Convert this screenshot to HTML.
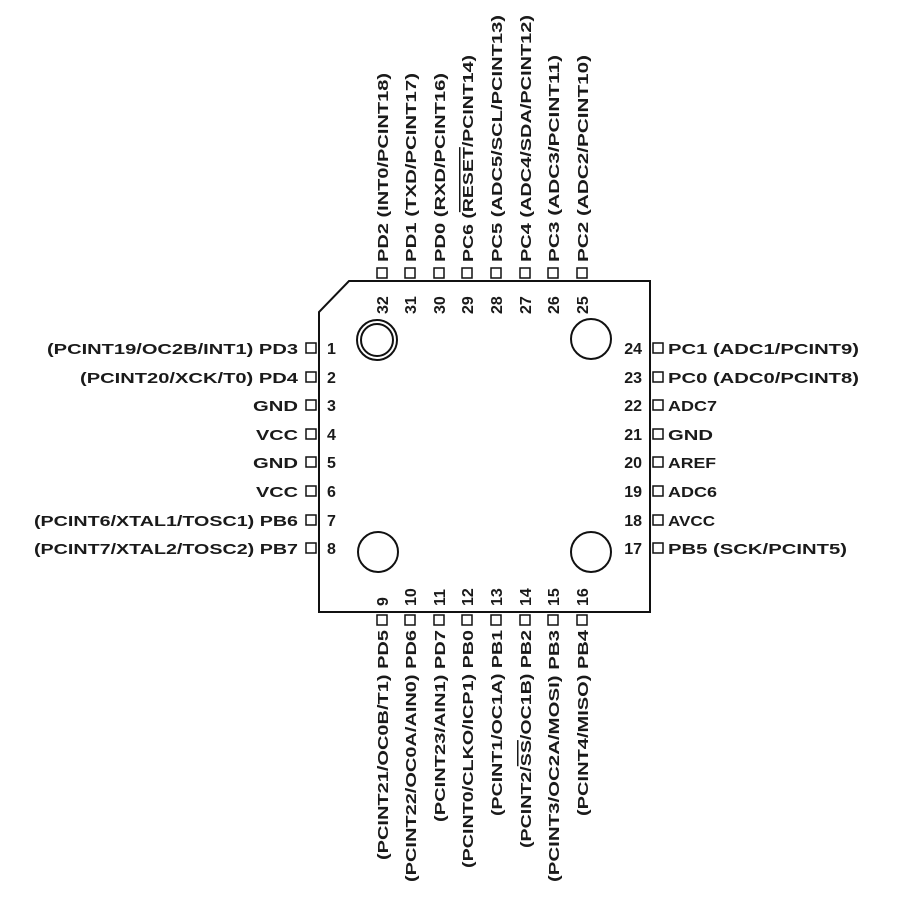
<!DOCTYPE html>
<html><head><meta charset="utf-8"><style>
html,body{margin:0;padding:0;background:#fff;}
svg{display:block;}
text{font-family:"Liberation Sans",Arial,sans-serif;font-size:15px;font-weight:bold;fill:#1a1a1a;}
.n{font-size:16px;}
</style></head><body>
<svg width="900" height="900" viewBox="0 0 900 900" xmlns="http://www.w3.org/2000/svg">
<g fill="none" stroke="#111" stroke-width="2">
<path d="M349 281 L650 281 L650 612 L319 612 L319 312 Z"/>
<circle cx="377" cy="340" r="20"/><circle cx="377" cy="340" r="16"/>
<circle cx="591" cy="339" r="20"/>
<circle cx="378" cy="552" r="20"/>
<circle cx="591" cy="552" r="20"/>
</g>
<g fill="none" stroke="#111" stroke-width="1.5">
<rect x="306" y="343" width="10" height="10"/><rect x="306" y="372" width="10" height="10"/>
<rect x="306" y="400" width="10" height="10"/><rect x="306" y="429" width="10" height="10"/>
<rect x="306" y="457" width="10" height="10"/><rect x="306" y="486" width="10" height="10"/>
<rect x="306" y="515" width="10" height="10"/><rect x="306" y="543" width="10" height="10"/>
<rect x="653" y="343" width="10" height="10"/><rect x="653" y="372" width="10" height="10"/>
<rect x="653" y="400" width="10" height="10"/><rect x="653" y="429" width="10" height="10"/>
<rect x="653" y="457" width="10" height="10"/><rect x="653" y="486" width="10" height="10"/>
<rect x="653" y="515" width="10" height="10"/><rect x="653" y="543" width="10" height="10"/>
<rect x="377" y="268" width="10" height="10"/><rect x="405" y="268" width="10" height="10"/>
<rect x="434" y="268" width="10" height="10"/><rect x="462" y="268" width="10" height="10"/>
<rect x="491" y="268" width="10" height="10"/><rect x="520" y="268" width="10" height="10"/>
<rect x="548" y="268" width="10" height="10"/><rect x="577" y="268" width="10" height="10"/>
<rect x="377" y="615" width="10" height="10"/><rect x="405" y="615" width="10" height="10"/>
<rect x="434" y="615" width="10" height="10"/><rect x="462" y="615" width="10" height="10"/>
<rect x="491" y="615" width="10" height="10"/><rect x="520" y="615" width="10" height="10"/>
<rect x="548" y="615" width="10" height="10"/><rect x="577" y="615" width="10" height="10"/>
</g>
<g text-anchor="end">
<text x="298" y="354" textLength="251" lengthAdjust="spacingAndGlyphs">(PCINT19/OC2B/INT1) PD3</text>
<text x="298" y="383" textLength="218" lengthAdjust="spacingAndGlyphs">(PCINT20/XCK/T0) PD4</text>
<text x="298" y="411" textLength="45" lengthAdjust="spacingAndGlyphs">GND</text>
<text x="298" y="440" textLength="42" lengthAdjust="spacingAndGlyphs">VCC</text>
<text x="298" y="468" textLength="45" lengthAdjust="spacingAndGlyphs">GND</text>
<text x="298" y="497" textLength="42" lengthAdjust="spacingAndGlyphs">VCC</text>
<text x="298" y="526" textLength="264" lengthAdjust="spacingAndGlyphs">(PCINT6/XTAL1/TOSC1) PB6</text>
<text x="298" y="554" textLength="264" lengthAdjust="spacingAndGlyphs">(PCINT7/XTAL2/TOSC2) PB7</text>
</g>
<g class="n">
<text class="n" x="327" y="354">1</text><text class="n" x="327" y="383">2</text><text class="n" x="327" y="411">3</text><text class="n" x="327" y="440">4</text>
<text class="n" x="327" y="468">5</text><text class="n" x="327" y="497">6</text><text class="n" x="327" y="526">7</text><text class="n" x="327" y="554">8</text>
</g>
<g>
<text x="668" y="354" textLength="191" lengthAdjust="spacingAndGlyphs">PC1 (ADC1/PCINT9)</text>
<text x="668" y="383" textLength="191" lengthAdjust="spacingAndGlyphs">PC0 (ADC0/PCINT8)</text>
<text x="668" y="411" textLength="49" lengthAdjust="spacingAndGlyphs">ADC7</text>
<text x="668" y="440" textLength="45" lengthAdjust="spacingAndGlyphs">GND</text>
<text x="668" y="468" textLength="48" lengthAdjust="spacingAndGlyphs">AREF</text>
<text x="668" y="497" textLength="49" lengthAdjust="spacingAndGlyphs">ADC6</text>
<text x="668" y="526" textLength="47" lengthAdjust="spacingAndGlyphs">AVCC</text>
<text x="668" y="554" textLength="179" lengthAdjust="spacingAndGlyphs">PB5 (SCK/PCINT5)</text>
</g>
<g text-anchor="end">
<text class="n" x="642" y="354">24</text><text class="n" x="642" y="383">23</text><text class="n" x="642" y="411">22</text><text class="n" x="642" y="440">21</text>
<text class="n" x="642" y="468">20</text><text class="n" x="642" y="497">19</text><text class="n" x="642" y="526">18</text><text class="n" x="642" y="554">17</text>
</g>
<g>
<text transform="translate(388,262) rotate(-90)" textLength="189" lengthAdjust="spacingAndGlyphs">PD2 (INT0/PCINT18)</text>
<text transform="translate(416,262) rotate(-90)" textLength="189" lengthAdjust="spacingAndGlyphs">PD1 (TXD/PCINT17)</text>
<text transform="translate(445,262) rotate(-90)" textLength="189" lengthAdjust="spacingAndGlyphs">PD0 (RXD/PCINT16)</text>
<text transform="translate(473,262) rotate(-90)" textLength="207" lengthAdjust="spacingAndGlyphs">PC6 (<tspan text-decoration="overline">RESET</tspan>/PCINT14)</text>
<text transform="translate(502,262) rotate(-90)" textLength="247" lengthAdjust="spacingAndGlyphs">PC5 (ADC5/SCL/PCINT13)</text>
<text transform="translate(531,262) rotate(-90)" textLength="247" lengthAdjust="spacingAndGlyphs">PC4 (ADC4/SDA/PCINT12)</text>
<text transform="translate(559,262) rotate(-90)" textLength="207" lengthAdjust="spacingAndGlyphs">PC3 (ADC3/PCINT11)</text>
<text transform="translate(588,262) rotate(-90)" textLength="207" lengthAdjust="spacingAndGlyphs">PC2 (ADC2/PCINT10)</text>
</g>
<g>
<text class="n" transform="translate(388,314) rotate(-90)">32</text>
<text class="n" transform="translate(416,314) rotate(-90)">31</text>
<text class="n" transform="translate(445,314) rotate(-90)">30</text>
<text class="n" transform="translate(473,314) rotate(-90)">29</text>
<text class="n" transform="translate(502,314) rotate(-90)">28</text>
<text class="n" transform="translate(531,314) rotate(-90)">27</text>
<text class="n" transform="translate(559,314) rotate(-90)">26</text>
<text class="n" transform="translate(588,314) rotate(-90)">25</text>
</g>
<g>
<text class="n" transform="translate(388,606) rotate(-90)">9</text>
<text class="n" transform="translate(416,606) rotate(-90)">10</text>
<text class="n" transform="translate(445,606) rotate(-90)">11</text>
<text class="n" transform="translate(473,606) rotate(-90)">12</text>
<text class="n" transform="translate(502,606) rotate(-90)">13</text>
<text class="n" transform="translate(531,606) rotate(-90)">14</text>
<text class="n" transform="translate(559,606) rotate(-90)">15</text>
<text class="n" transform="translate(588,606) rotate(-90)">16</text>
</g>
<g text-anchor="end">
<text transform="translate(388,630) rotate(-90)" textLength="230" lengthAdjust="spacingAndGlyphs">(PCINT21/OC0B/T1) PD5</text>
<text transform="translate(416,630) rotate(-90)" textLength="252" lengthAdjust="spacingAndGlyphs">(PCINT22/OC0A/AIN0) PD6</text>
<text transform="translate(445,630) rotate(-90)" textLength="192" lengthAdjust="spacingAndGlyphs">(PCINT23/AIN1) PD7</text>
<text transform="translate(473,630) rotate(-90)" textLength="238" lengthAdjust="spacingAndGlyphs">(PCINT0/CLKO/ICP1) PB0</text>
<text transform="translate(502,630) rotate(-90)" textLength="186" lengthAdjust="spacingAndGlyphs">(PCINT1/OC1A) PB1</text>
<text transform="translate(531,630) rotate(-90)" textLength="218" lengthAdjust="spacingAndGlyphs">(PCINT2/<tspan text-decoration="overline">SS</tspan>/OC1B) PB2</text>
<text transform="translate(559,630) rotate(-90)" textLength="252" lengthAdjust="spacingAndGlyphs">(PCINT3/OC2A/MOSI) PB3</text>
<text transform="translate(588,630) rotate(-90)" textLength="186" lengthAdjust="spacingAndGlyphs">(PCINT4/MISO) PB4</text>
</g>
</svg>
</body></html>
